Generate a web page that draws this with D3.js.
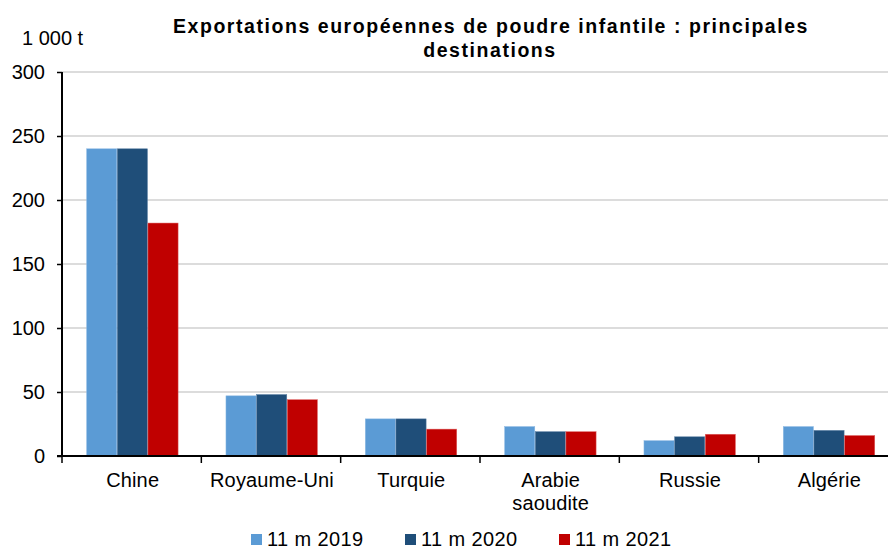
<!DOCTYPE html>
<html><head><meta charset="utf-8">
<script src="https://cdn.jsdelivr.net/npm/d3@7"></script>
<style>body{margin:0;background:#fff}svg{display:block;font-family:"Liberation Sans",Arial,sans-serif}</style>
</head><body>
<svg id="c" width="888" height="549"></svg>
<script>
const categories = ["Chine", "Royaume-Uni", "Turquie", "Arabie\nsaoudite", "Russie", "Algérie"];
const seriesNames = ["11 m 2019", "11 m 2020", "11 m 2021"];
const v2019 = [240, 47, 29, 23, 12, 23];
const v2020 = [240, 48, 29, 19, 15, 20];
const v2021 = [182, 44, 21, 19, 17, 16];
const yTicks = [0, 50, 100, 150, 200, 250, 300];
const colors = ["#5B9BD5", "#1F4E79", "#C00000"];
const strokes = ["#8DB9E3", "#5A7FA3", "#E06666"];
const seriesVals = [v2019, v2020, v2021];

const svg = d3.select("#c");
const pLeft = 62, pRight = 898, pTop = 72, pBottom = 456;
const x0 = d3.scaleBand().domain(categories).range([pLeft, pRight]).padding(0);
const x1 = d3.scaleBand().domain(seriesNames).range([x0.bandwidth()*0.175, x0.bandwidth()*0.835]).padding(0);
const y = d3.scaleLinear().domain([0, 300]).range([pBottom, pTop]);

// gridlines
svg.append("g").selectAll("line").data(yTicks.filter(d => d > 0)).join("line")
  .attr("x1", pLeft).attr("x2", 888).attr("y1", d => y(d)).attr("y2", d => y(d))
  .attr("stroke", "#d0d0d0").attr("stroke-width", 1.5);

// bars
const g = svg.append("g").selectAll("g").data(categories).join("g")
  .attr("transform", d => `translate(${x0(d)},0)`);
g.selectAll("rect").data((d, i) => seriesNames.map((s, j) => ({s, v: seriesVals[j][i], j})))
  .join("rect")
  .attr("x", d => x1(d.s) + 0.25).attr("width", x1.bandwidth() - 0.5)
  .attr("y", d => y(d.v)).attr("height", d => pBottom - y(d.v))
  .attr("fill", d => colors[d.j]).attr("stroke", d => strokes[d.j]).attr("stroke-width", 0.5);

// y axis
const ya = svg.append("g").attr("transform", `translate(${pLeft},0)`)
  .call(d3.axisLeft(y).tickValues(yTicks).tickSize(5).tickPadding(12));
ya.select(".domain").attr("stroke", "#000").attr("stroke-width", 2).attr("d", `M0,${pTop}V${pBottom}`);
ya.selectAll(".tick line").attr("stroke", "#000").attr("stroke-width", 1.5);
ya.selectAll(".tick text").attr("font-size", 20).attr("font-family", "Liberation Sans, Arial, sans-serif").attr("fill", "#000");

// x axis
const xa = svg.append("g").attr("transform", `translate(0,${pBottom})`);
xa.append("line").attr("x1", pLeft - 5).attr("x2", 888).attr("y1", 0).attr("y2", 0).attr("stroke", "#000").attr("stroke-width", 2);
xa.selectAll("line.t").data(categories).join("line").attr("class", "t")
  .attr("x1", d => x0(d)).attr("x2", d => x0(d)).attr("y1", 0).attr("y2", 7)
  .attr("stroke", "#000").attr("stroke-width", 1.5);
xa.selectAll("text").data(categories).join("text")
  .attr("x", d => x0(d) + x0.bandwidth()/2 + 1).attr("y", 31)
  .attr("text-anchor", "middle").attr("font-size", 20).attr("letter-spacing", 0.15).attr("fill", "#000")
  .each(function(d) {
    d.split("\n").forEach((line, i) => d3.select(this).append("tspan")
      .attr("x", x0(d) + x0.bandwidth()/2 + 1).attr("dy", i === 0 ? 0 : 23).text(line));
  });

// unit label
svg.append("text").attr("x", 22).attr("y", 45).attr("font-size", 20).attr("fill", "#000").text("1 000 t");

// title
const title = svg.append("text").attr("text-anchor", "middle").attr("font-weight", "bold").attr("font-size", 19.5)
  .attr("letter-spacing", 1.55).attr("fill", "#000");
title.append("tspan").attr("x", 491).attr("y", 33).text("Exportations européennes de poudre infantile : principales");
title.append("tspan").attr("x", 490).attr("y", 57).text("destinations");

// legend
const lx = [251, 405, 559];
const lg = svg.append("g").selectAll("g").data(seriesNames).join("g")
  .attr("transform", (d, i) => `translate(${lx[i]},534)`);
lg.append("rect").attr("width", 11).attr("height", 11).attr("fill", (d, i) => colors[i]);
lg.append("text").attr("x", 16).attr("y", 12).attr("font-size", 20).attr("letter-spacing", 0.4).attr("fill", "#000").text(d => d);
</script>
</body></html>
